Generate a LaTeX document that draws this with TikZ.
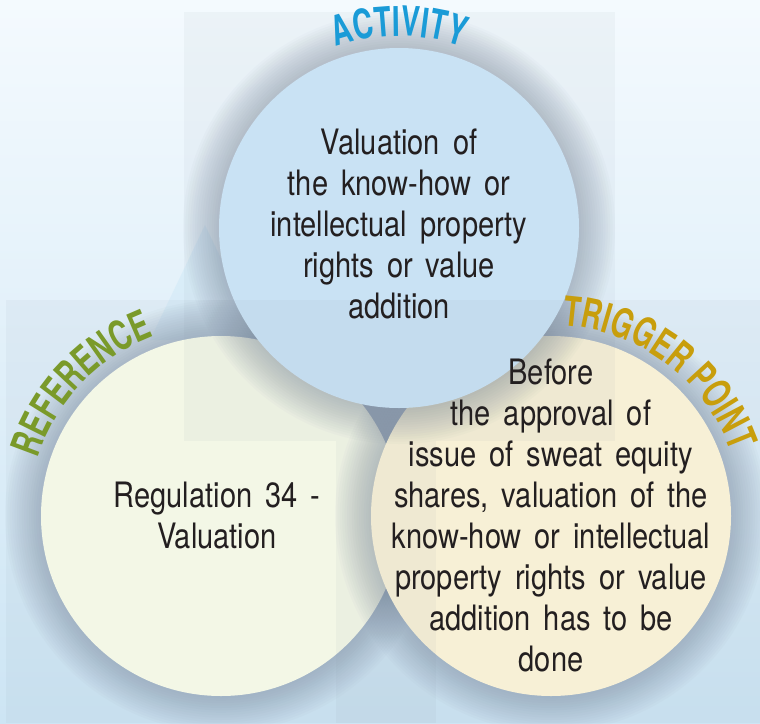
\documentclass[tikz,border=0pt]{standalone}
\usepackage{fontspec}
\setmainfont{TeX Gyre Heros}[FakeStretch=0.83, WordSpace=1.6]
\newfontfamily\labfam{TeX Gyre Heros}[FakeStretch=0.69]
\usetikzlibrary{decorations.text}
\definecolor{txt}{HTML}{231F20}
\definecolor{actblue}{HTML}{1A9BD7}
\definecolor{refgreen}{HTML}{7A9A2A}
\definecolor{trigold}{HTML}{C89E0C}
\definecolor{fillT}{HTML}{CFE8FA}
\definecolor{fillL}{HTML}{FBFEEC}
\definecolor{fillR}{HTML}{FFF7DA}
\definecolor{glow}{RGB}{110,124,146}
\definecolor{rectc}{RGB}{120,135,150}
\definecolor{bgtop}{HTML}{F4FAFE}
\definecolor{bgbot}{HTML}{CDE5F4}
\definecolor{streak}{HTML}{D2EAF8}
\newcommand{\labfont}{\labfam\bfseries\fontsize{41}{41}\selectfont}
\begin{document}
\begin{tikzpicture}[x=1pt,y=1pt,
  bubble/.style={circle, minimum size=360pt, inner sep=0pt, outer sep=0pt},
  bodytext/.style={align=center, text=txt, font=\fontsize{35}{41}\selectfont, inner sep=0pt},
  veil/.style={fill=rectc, opacity=0.06},
  halo/.style={fill=glow, opacity=0.033}
]
\useasboundingbox (0,0) rectangle (760,-723);
% background
\shade[top color=bgtop, bottom color=bgbot] (0,0) rectangle (760,-723);
\fill[streak, opacity=0.6] (205,-225) -- (150,-340) -- (260,-340) -- cycle;
% circle centres
\coordinate (pL) at (221,-516);
\coordinate (pR) at (551,-516);
\coordinate (pT) at (399,-228);
% left circle
\foreach \i in {1,...,15} \fill[halo] (pL) circle[radius={180pt+2.4pt*\i}];
\node[bubble, fill=fillL] (L) at (pL) {};
% right circle
\foreach \i in {1,...,15} \fill[halo] (pR) circle[radius={180pt+2.4pt*\i}];
\node[bubble, fill=fillR] (R) at (pR) {};
% top circle
\foreach \i in {1,...,15} \fill[halo] (pT) circle[radius={180pt+2.4pt*\i}];
\node[bubble, fill=fillT] (T) at (pT) {};
% translucent panels
\fill[veil] (184,-12) rectangle (615,-441);
\fill[veil] (6,-300) rectangle (760,-723);
\fill[veil] (336,-441) rectangle (436,-723);
% curved labels
\path[decorate, decoration={text along path, text align=center,
  text={|\labfont\color{actblue}|ACTIVITY}}]
  ([shift={(140:192pt)}]pT) arc[start angle=140, end angle=40, radius=192pt];
\path[decorate, decoration={text along path, text align=center,
  text={|\labfont\color{refgreen}|REFERENCE}}]
  ([shift={(186.5:192pt)}]pL) arc[start angle=186.5, end angle=86.5, radius=192pt];
\path[decorate, decoration={text along path, text align=center,
  text={|\labfont\color{trigold}|TRIGGER POINT}}]
  ([shift={(108:191pt)}]pR) arc[start angle=108, end angle=-2, radius=191pt];
% texts
\node[bodytext] (tT) at (399,-224) {Valuation of\\the know-how or\\intellectual property\\rights or value\\addition};
\node[bodytext] (tL) at (217,-515) {Regulation 34 -\\Valuation};
\node[bodytext] (tR) at (551,-515) {Before\\the approval of\\issue of sweat equity\\shares, valuation of the\\know-how or intellectual\\property rights or value\\addition has to be\\done};
\end{tikzpicture}
\end{document}
